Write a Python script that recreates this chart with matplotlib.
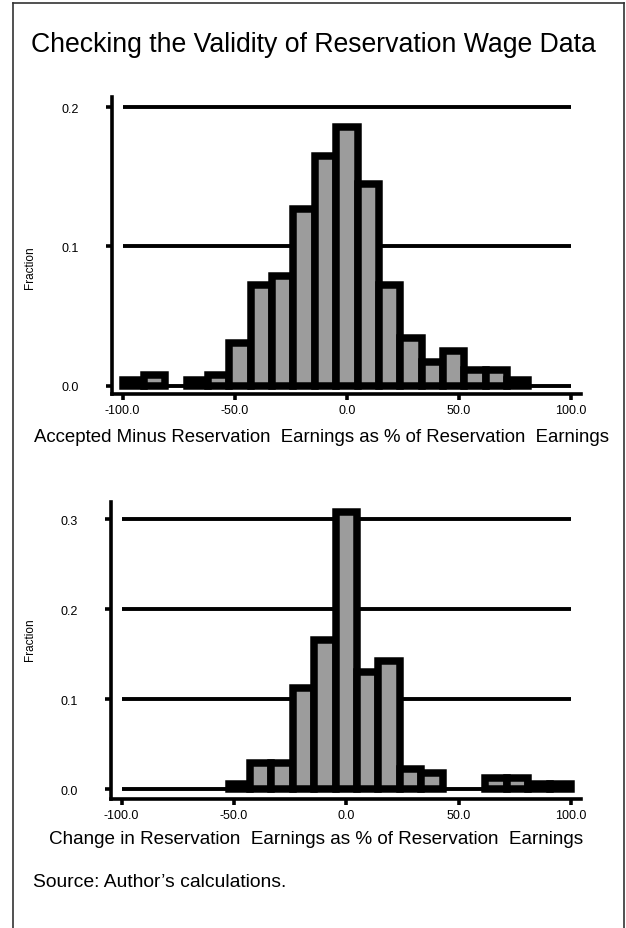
import matplotlib
matplotlib.use("Agg")
import matplotlib.pyplot as plt
import numpy as np
from matplotlib.lines import Line2D

plt.rcParams["font.family"] = ["Liberation Sans", "DejaVu Sans"]
plt.rcParams["axes.unicode_minus"] = False

W, H = 626, 929

# 21 equal bins between -100 and 100 (percent)
BIN_LOW, BIN_HIGH, N_BINS = -100.0, 100.0, 21

ACCEPTED_FRACTION = [0.004, 0.008, 0.0, 0.004, 0.008, 0.031, 0.072, 0.079, 0.127, 0.165, 0.186,
                     0.145, 0.072, 0.034, 0.017, 0.025, 0.011, 0.011, 0.004, 0.0, 0.0]
CHANGE_FRACTION = [0.0, 0.0, 0.0, 0.0, 0.0, 0.006, 0.029, 0.029, 0.112, 0.166, 0.308,
                   0.130, 0.142, 0.022, 0.018, 0.0, 0.0, 0.012, 0.012, 0.006, 0.006]

X_TICKS = [-100, -50, 0, 50, 100]
TOP_Y_TICKS = [0.0, 0.1, 0.2]
BOTTOM_Y_TICKS = [0.0, 0.1, 0.2, 0.3]

TITLE = "Checking the Validity of Reservation Wage Data"
TOP_XLABEL = "Accepted Minus Reservation  Earnings as % of Reservation  Earnings"
BOTTOM_XLABEL = "Change in Reservation  Earnings as % of Reservation  Earnings"
SOURCE = "Source: Author\u2019s calculations."


def px_box(left: float, top: float, right: float, bottom: float) -> list[float]:
    return [left / W, 1 - bottom / H, (right - left) / W, (bottom - top) / H]


def draw_hist(ax: plt.Axes, fractions: list[float], yticks: list[float], ylim: tuple[float, float]) -> None:
    edges = np.linspace(BIN_LOW, BIN_HIGH, N_BINS + 1)
    width = edges[1] - edges[0]
    heights = np.array(fractions)
    keep = heights > 0
    ax.hlines(yticks, BIN_LOW, BIN_HIGH, color="black", linewidth=2.8, zorder=1)
    ax.bar(edges[:-1][keep], heights[keep], width=width, align="edge",
           color="#9c9c9c", edgecolor="black", linewidth=5.4, zorder=3)

    ax.set_xlim(-104.7, 104.4)
    ax.set_ylim(*ylim)
    ax.set_xticks(X_TICKS, labels=[f"{v:.1f}" for v in X_TICKS])
    ax.set_yticks(yticks, labels=[f"{v:.1f}" for v in yticks])
    for side in ("top", "right"):
        ax.spines[side].set_visible(False)
    for side in ("left", "bottom"):
        ax.spines[side].set_linewidth(2.6)
    ax.tick_params(axis="x", direction="out", length=4, width=2.6, pad=3, labelsize=9)
    ax.tick_params(axis="y", direction="out", length=4, width=2.6, pad=20, labelsize=9)


fig = plt.figure(figsize=(W / 100, H / 100), dpi=100)

ax_top = fig.add_axes(px_box(112, 98, 581, 395))
draw_hist(ax_top, ACCEPTED_FRACTION, TOP_Y_TICKS, (-0.006, 0.2074))

ax_bottom = fig.add_axes(px_box(111, 503, 581, 800))
draw_hist(ax_bottom, CHANGE_FRACTION, BOTTOM_Y_TICKS, (-0.0111, 0.3192))

fig.text(313 / W, 1 - 45 / H, TITLE, ha="center", va="center", fontsize=19.2)
fig.text(321 / W, 1 - 438 / H, TOP_XLABEL, ha="center", va="center", fontsize=13.4)
fig.text(316 / W, 1 - 840 / H, BOTTOM_XLABEL, ha="center", va="center", fontsize=13.6)
fig.text(33 / W, 1 - 883 / H, SOURCE, ha="left", va="center", fontsize=13.9)
fig.text(30 / W, 1 - 268 / H, "Fraction", rotation=90, ha="center", va="center", fontsize=8.5)
fig.text(30 / W, 1 - 640 / H, "Fraction", rotation=90, ha="center", va="center", fontsize=8.5)

# page frame, open at the bottom
frame = dict(color="#333333", linewidth=1.2, transform=fig.transFigure)
fig.add_artist(Line2D([12.5 / W, 12.5 / W], [0, 1 - 4 / H], **frame))
fig.add_artist(Line2D([12.5 / W, 623.5 / W], [1 - 4 / H, 1 - 4 / H], **frame))
fig.add_artist(Line2D([623.5 / W, 623.5 / W], [0, 1 - 4 / H], **frame))

fig.savefig("out.png", dpi=100)
plt.close(fig)
